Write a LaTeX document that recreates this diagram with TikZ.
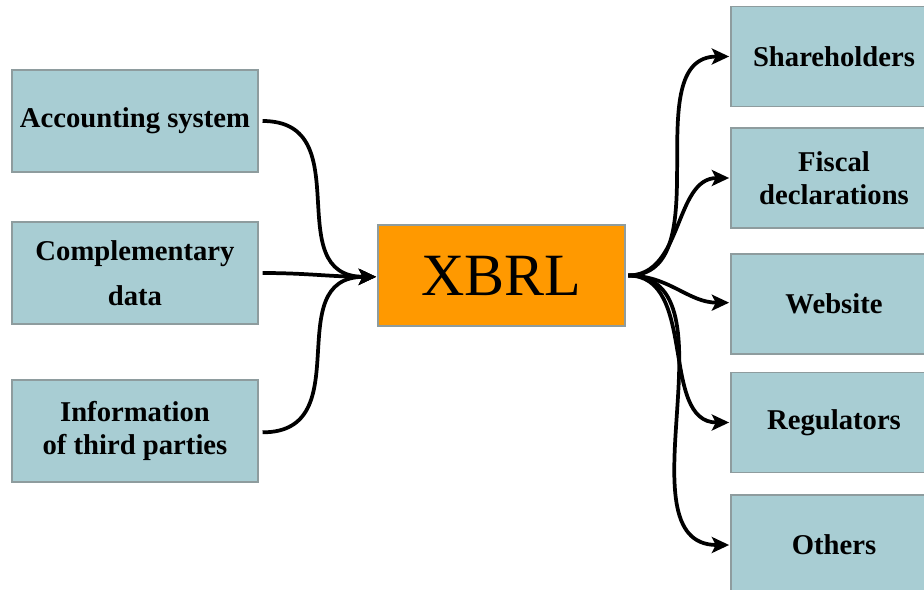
\documentclass[tikz,border=0pt]{standalone}
\usepackage{fontspec}
\setmainfont{Liberation Serif}
\usetikzlibrary{arrows.meta}
\definecolor{boxblue}{HTML}{A8CDD3}
\definecolor{boxedge}{HTML}{8E9C9E}
\definecolor{xorange}{HTML}{FF9900}
\begin{document}
\begin{tikzpicture}[x=0.75pt,y=-0.75pt,
  srcbox/.style={draw=boxedge, line width=0.8pt, fill=boxblue, minimum width=184.5pt, minimum height=76.5pt, inner sep=0pt, align=center, font=\fontsize{21.5}{25}\selectfont\bfseries},
  dstbox/.style={draw=boxedge, line width=0.8pt, fill=boxblue, minimum width=154.5pt, minimum height=75pt, inner sep=0pt, align=center, font=\fontsize{21.5}{25}\selectfont\bfseries},
  hub/.style={draw=boxedge, line width=0.8pt, fill=xorange, minimum width=185.25pt, minimum height=75.75pt, inner sep=0pt, font=\fontsize{45}{50}\selectfont},
  flow/.style={line width=2.8pt, -{Stealth[length=13pt,width=12pt,inset=3pt]}}
]
\useasboundingbox (0,0) rectangle (924,589);
\clip (0,0) rectangle (924,589);
\fill[white] (0,0) rectangle (924,589);

\node[srcbox] (acc) at (135,121) {\raisebox{-4pt}{Accounting system}};
\node[srcbox] (comp) at (135,273) {\raisebox{-5pt}{\shortstack{Complementary\\[11pt]data}}};
\node[srcbox] (info) at (135,431) {Information\\of third parties};

\node[hub] (xbrl) at (501.5,275.5) {XBRL};

\node[dstbox] (sh) at (834,56.5) {\raisebox{-2pt}{Shareholders}};
\node[dstbox] (fis) at (834,178) {Fiscal\\declarations};
\node[dstbox] (web) at (834,304) {\raisebox{-2pt}{Website}};
\node[dstbox] (reg) at (834,422.5) {\raisebox{-3pt}{Regulators}};
\node[dstbox] (oth) at (834,545) {\raisebox{-2pt}{Others}};

\coordinate (inpt) at ([xshift=-1pt,yshift=-1pt]xbrl.west);
\coordinate (outpt) at ([xshift=2pt]xbrl.east);

\draw[flow] ([xshift=3pt]acc.east) to[out=0,in=180,looseness=1.3] (inpt);
\draw[flow] ([xshift=3pt]comp.east) to[out=0,in=180] (inpt);
\draw[flow] ([xshift=3pt,yshift=-1pt]info.east) to[out=0,in=180,looseness=1.3] (inpt);

\draw[flow] (outpt) to[out=0,in=180] ([xshift=-1pt]sh.west);
\draw[flow] (outpt) to[out=0,in=180] ([xshift=-1pt]fis.west);
\draw[flow] (outpt) to[out=0,in=180] ([xshift=-1pt,yshift=1pt]web.west);
\draw[flow] (outpt) to[out=0,in=180] ([xshift=-1pt]reg.west);
\draw[flow] (outpt) to[out=0,in=180] ([xshift=-1pt]oth.west);
\end{tikzpicture}
\end{document}
